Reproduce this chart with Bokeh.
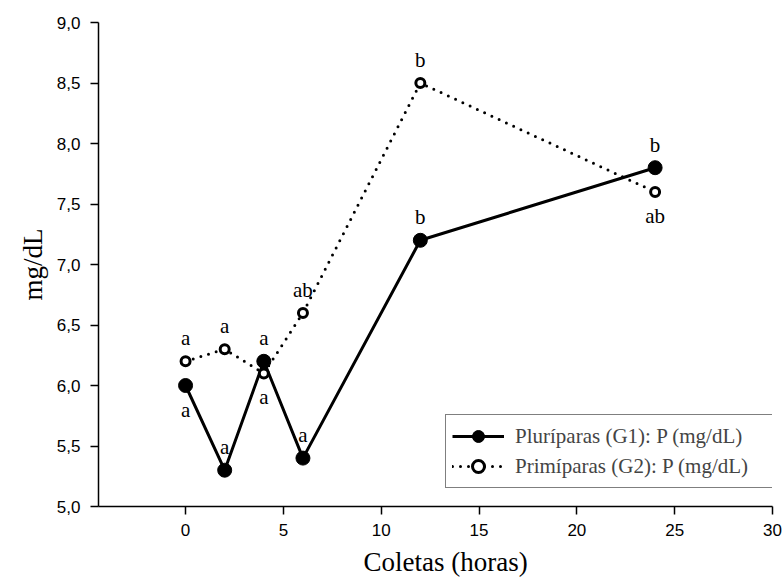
from bokeh.plotting import figure
from bokeh.models import ColumnDataSource, Legend, LegendItem, CustomJSTickFormatter, FixedTicker, Range1d, LabelSet, Title
from bokeh.embed import file_html
from bokeh.resources import INLINE

hours = [0, 2, 4, 6, 12, 24]
g1 = [6.0, 5.3, 6.2, 5.4, 7.2, 7.8]
g2 = [6.2, 6.3, 6.1, 6.6, 8.5, 7.6]
g1_letters = ["a", "a", "a", "a", "b", "b"]
g2_letters = ["a", "a", "a", "ab", "b", "ab"]
g1_pos = ["below", "above", "above", "above", "above", "above"]
g2_pos = ["above", "above", "below", "above", "above", "below"]
x_ticks = [0, 5, 10, 15, 20, 25, 30]
y_ticks = [5.0, 5.5, 6.0, 6.5, 7.0, 7.5, 8.0, 8.5, 9.0]
x_title = "Coletas (horas)"
y_title = "mg/dL"

p = figure(width=784, height=582, output_backend="svg", toolbar_location=None,
           x_range=Range1d(-4.45, 30), y_range=Range1d(5.0, 9.0),
           min_border_left=98, min_border_right=12, min_border_top=22, min_border_bottom=74)
p.outline_line_color = None
p.grid.visible = False
p.background_fill_color = "white"

for ax in (p.xaxis, p.yaxis):
    ax.axis_line_color = "black"
    ax.axis_line_width = 1.5
    ax.major_tick_line_color = "black"
    ax.major_tick_line_width = 1.5
    ax.major_tick_out = 8
    ax.major_tick_in = 0
    ax.minor_tick_line_color = None
    ax.major_label_text_font = "Liberation Sans"
    ax.major_label_text_font_size = "17px"
    ax.major_label_text_color = "black"
    ax.axis_label_text_font = "Liberation Serif"
    ax.axis_label_text_font_size = "27px"
    ax.axis_label_text_font_style = "normal"
    ax.axis_label_text_color = "black"

p.xaxis.ticker = FixedTicker(ticks=x_ticks)
p.yaxis.ticker = FixedTicker(ticks=y_ticks)
p.yaxis.formatter = CustomJSTickFormatter(code="return tick.toFixed(1).replace('.', ',');")
p.yaxis.axis_label = y_title
p.xaxis.major_label_standoff = 9
p.yaxis.major_label_standoff = 10
p.yaxis.axis_label_standoff = 6

xt = Title(text=x_title, align="left", offset=265, standoff=12, text_line_height=0.9,
           text_font="Liberation Serif", text_font_size="27px", text_font_style="normal",
           text_color="black")
p.add_layout(xt, "below")

src1 = ColumnDataSource(dict(x=hours, y=g1))
src2 = ColumnDataSource(dict(x=hours, y=g2))

l1 = p.line("x", "y", source=src1, line_color="black", line_width=3)
l2 = p.line("x", "y", source=src2, line_color="black", line_width=3, line_dash="0 8", line_cap="round")
c1 = p.scatter("x", "y", source=src1, size=14, fill_color="black", line_color="black")
c2 = p.scatter("x", "y", source=src2, size=9, fill_color="white", line_color="black", line_width=3)

def labels(xs, ys, letters, pos):
    above = dict(x=[], y=[], t=[])
    below = dict(x=[], y=[], t=[])
    for xi, yi, t, ps in zip(xs, ys, letters, pos):
        d = above if ps == "above" else below
        d["x"].append(xi); d["y"].append(yi); d["t"].append(t)
    for d, off, base in ((above, 11, "bottom"), (below, -12, "top")):
        ls = LabelSet(x="x", y="y", text="t", source=ColumnDataSource(d), y_offset=off,
                      text_align="center", text_baseline=base,
                      text_font="Liberation Serif", text_font_size="21px", text_color="black")
        p.add_layout(ls)

labels(hours, g1, g1_letters, g1_pos)
labels(hours, g2, g2_letters, g2_pos)

legend = Legend(items=[LegendItem(label="Pluríparas (G1): P (mg/dL)", renderers=[l1, c1]),
                       LegendItem(label="Primíparas (G2): P (mg/dL)", renderers=[l2, c2])],
                location=(347, 18))
legend.border_line_color = "black"
legend.border_line_width = 1.5
legend.label_text_font = "Liberation Serif"
legend.label_text_font_size = "21px"
legend.glyph_width = 52
legend.glyph_height = 30
legend.padding = 6
legend.spacing = 0
legend.label_standoff = 11
legend.label_width = 251
legend.margin = 0
legend.background_fill_alpha = 1
p.add_layout(legend, "center")

open("out.html", "w").write(file_html(p, INLINE))
